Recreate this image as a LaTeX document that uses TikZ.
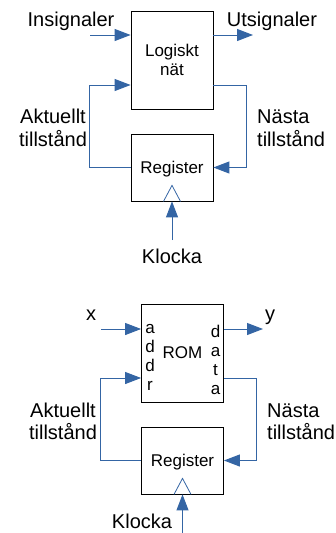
\documentclass[tikz,border=0pt]{standalone}
\usepackage{fontspec}
\setmainfont{Liberation Sans}
\usetikzlibrary{arrows.meta}

\definecolor{wire}{RGB}{52,101,164}

\tikzset{
    box/.style={draw=black, line width=0.8pt, rectangle, minimum width=82pt, inner sep=0pt},
    sig/.style={draw=wire, line width=1pt, -{Triangle[length=16pt,width=12pt]}},
    clk/.style={draw=wire, line width=0.8pt},
    lbl/.style={font=\fontsize{20}{22.5}\selectfont, inner sep=0pt},
    boxlbl/.style={font=\fontsize{17}{19}\selectfont, inner sep=0pt},
}

\begin{document}
\begin{tikzpicture}[x=1pt, y=-1pt]
\useasboundingbox (0,0) rectangle (336,533);

% ---- Sequential machine with a logic net ----

% Logic net and register
\node[box, minimum height=98pt, boxlbl, align=center] (logic) at (172,60) {Logiskt\\nät};
\node[box, minimum height=67pt, boxlbl, text depth=0pt] (reg1) at (172,167.5) {Register};

% Inputs and outputs
\coordinate (in1) at (90,35);
\coordinate (out1) at (253,35);
\draw[sig] (in1) -- (in1 -| logic.west);
\draw[sig] (out1 -| logic.east) -- (out1);
\node[lbl, anchor=base] (insig) at (71,26) {Insignaler};
\node[lbl, anchor=base] (utsig) at (272,26) {Utsignaler};

% State feedback
\draw[sig] (reg1.west) -- ++(-41,0) |- ([yshift=-25pt]logic.west);
\draw[sig] ([yshift=-25pt]logic.east) -- ++(33,0) |- (reg1.east);
\node[lbl, align=center] (cur1) at (53,128) {Aktuellt\\tillstånd};
\node[lbl, align=left, anchor=west] (next1) at (257,128) {Nästa\\tillstånd};

% Clock
\draw[clk] ([xshift=-8.5pt]reg1.south) -- ++(8.5,-16) -- ([xshift=8.5pt]reg1.south);
\coordinate (clk1) at (172,240);
\draw[sig] (clk1) -- (reg1.south);
\node[lbl, anchor=base] (klocka1) at (172,263) {Klocka};

% ---- Same machine built with a ROM ----

% ROM and register
\node[box, minimum height=98pt, boxlbl] (rom) at (182.5,353) {ROM};
\node[box, minimum height=67pt, boxlbl, text depth=0pt] (reg2) at (182.5,460.5) {Register};
\foreach \c [count=\i] in {a,d,d,r}
    \node[boxlbl, anchor=base] (addr\i) at (150,{314+19*\i}) {\c};
\foreach \c [count=\i] in {d,a,t,a}
    \node[boxlbl, anchor=base] (data\i) at (215.5,{318+19*\i}) {\c};

% Inputs and outputs
\coordinate (in2) at (101,329);
\coordinate (out2) at (263,329);
\draw[sig] (in2) -- (in2 -| rom.west);
\draw[sig] (out2 -| rom.east) -- (out2);
\node[lbl, anchor=base] (xlbl) at (91,320) {x};
\node[lbl, anchor=base] (ylbl) at (270,320) {y};

% State feedback
\draw[sig] (reg2.west) -- ++(-41,0) |- ([yshift=-25pt]rom.west);
\draw[sig] ([yshift=-25pt]rom.east) -- ++(33,0) |- (reg2.east);
\node[lbl, align=center] (cur2) at (63,421.5) {Aktuellt\\tillstånd};
\node[lbl, align=left, anchor=west] (next2) at (267,421.5) {Nästa\\tillstånd};

% Clock
\draw[clk] ([xshift=-8.5pt]reg2.south) -- ++(8.5,-16) -- ([xshift=8.5pt]reg2.south);
\coordinate (clk2) at (182.5,533);
\draw[sig] (clk2) -- (reg2.south);
\node[lbl, anchor=base] (klocka2) at (142,528) {Klocka};

\end{tikzpicture}
\end{document}
